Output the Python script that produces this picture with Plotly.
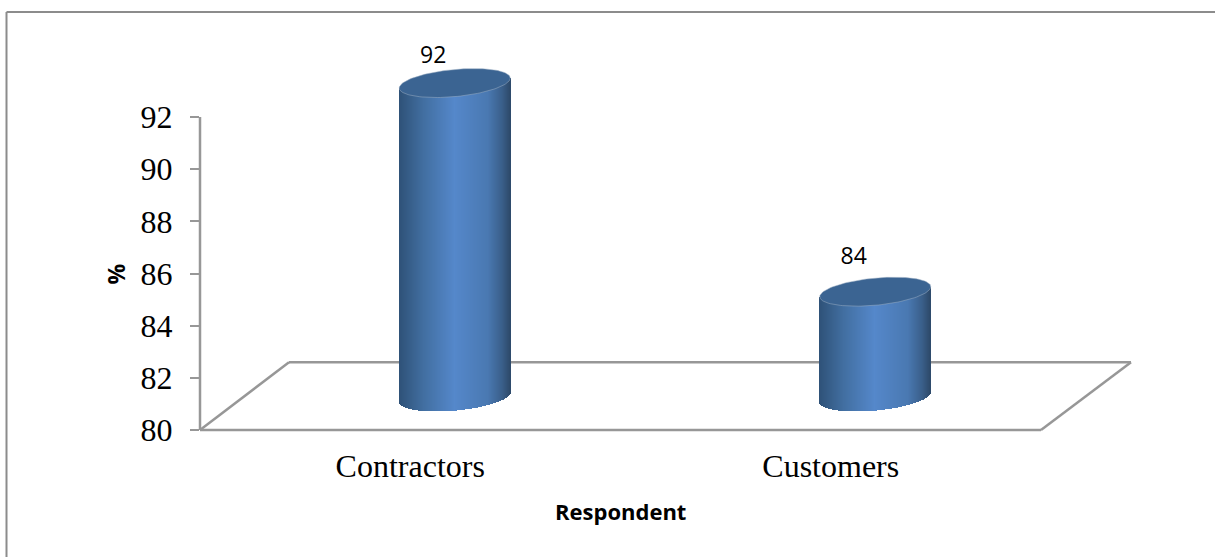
import numpy as np
import plotly.graph_objects as go

# ---- data ----
categories = ["Contractors", "Customers"]
values = [92, 84]
y_ticks = [80, 82, 84, 86, 88, 90, 92]
x_centres = [0.5, 1.5]

# ---- drawing geometry (data units: 1 x unit = 420.5 px, 1 y unit = 26.08 px) ----
PX_X, PX_Y = 420.5, 26.08
BASE = 80
W, H = 1215, 557
L, R, T, B = 200, 84, 0, 127
X_MAX = 931 / PX_X
Y_MAX = 80 + 430 / PX_Y
GREY = "#979797"
stops = [(0, (47, 82, 120)), (0.22, (66, 111, 161)), (0.5, (85, 136, 203)),
         (0.8, (74, 121, 178)), (0.93, (58, 95, 138)), (1, (46, 74, 107))]


def shade(t):
    xs = [s[0] for s in stops]
    return "rgb(%d,%d,%d)" % tuple(int(np.interp(t, xs, [s[1][i] for s in stops])) for i in range(3))


def floor_line(x0, y0, x1, y1):
    # paper references so that lines on the plot edge are not clipped
    return dict(type="line", xref="paper", yref="paper",
                x0=x0 / X_MAX, y0=(y0 - 80) / (Y_MAX - 80),
                x1=x1 / X_MAX, y1=(y1 - 80) / (Y_MAX - 80),
                layer="below", line=dict(color=GREY, width=2.5))


def px_x(p):
    return (p - L) / (W - L - R)


def px_y(p):
    return (H - B - p) / (H - T - B)


fig = go.Figure()

rx = 55.5 / PX_X
ry = 13.6 / PX_Y
tilt = 0.09 * PX_X / PX_Y  # data y per data x
for cat, c, v in zip(categories, x_centres, values):
    cx = c + 44.5 / PX_X
    top = v + 34 / PX_Y
    bot = BASE + 33 / PX_Y
    xs = cx + (np.arange(111) + 0.5 - 55.5) / PX_X
    u = np.clip((xs - cx) / rx, -1, 1)
    upper = top + tilt * (xs - cx)
    lower = bot + tilt * (xs - cx) - ry * np.sqrt(1 - u ** 2)
    # cylinder body, one thin bar per shade
    fig.add_trace(go.Bar(
        x=xs, y=upper - lower, base=lower, width=1.25 / PX_X,
        marker=dict(color=[shade((t + 1) / 2) for t in u], line=dict(width=0)),
        hoverinfo="skip", showlegend=False, name=cat))
    # cylinder cap
    a = np.linspace(0, 2 * np.pi, 121)
    ex = cx + rx * np.cos(a)
    ey = top + tilt * rx * np.cos(a) + ry * np.sin(a)
    fig.add_trace(go.Scatter(
        x=ex, y=ey, mode="lines", fill="toself", fillcolor="#3b6492",
        line=dict(color="#9fb0c4", width=0.5), hoverinfo="skip", showlegend=False))

# data labels
label_shift = [2.3, 2.58]
fig.add_trace(go.Scatter(
    x=[c + 23 / PX_X for c in x_centres], y=[v + s for v, s in zip(values, label_shift)],
    mode="text", text=[str(v) for v in values], textposition="middle center",
    textfont=dict(family="Open Sans", size=23, color="black"),
    hoverinfo="skip", showlegend=False))

fig.update_layout(
    width=W, height=H, autosize=False, barmode="overlay", bargap=0,
    paper_bgcolor="white", plot_bgcolor="rgba(0,0,0,0)",
    margin=dict(l=L, r=R, t=T, b=B, pad=0),
    showlegend=False,
    xaxis=dict(range=[0, X_MAX], tickvals=x_centres, ticktext=categories,
               showgrid=False, zeroline=False, showline=False, ticks="", ticklabelstandoff=14,
               tickfont=dict(family="Liberation Serif", size=32, color="black")),
    yaxis=dict(range=[80, Y_MAX], tickvals=y_ticks, showgrid=False, zeroline=False,
               showline=False,
               ticks="outside", ticklen=9, tickwidth=2, tickcolor=GREY,
               ticklabelstandoff=11,
               tickfont=dict(family="Liberation Serif", size=32, color="black")),
    annotations=[
        dict(text="<b>Respondent</b>", xref="paper", yref="paper", x=px_x(620.5), y=px_y(511),
             showarrow=False, xanchor="center", yanchor="middle",
             font=dict(family="Open Sans", size=22, color="black")),
        dict(text="<b>%</b>", xref="paper", yref="paper", x=px_x(115.5), y=px_y(274), textangle=-90,
             showarrow=False, xanchor="center", yanchor="middle",
             font=dict(family="Open Sans", size=23, color="black")),
    ],
    shapes=[
        # axis wall and floor of the 3-D plot
        floor_line(0, 80, 0, 92),
        floor_line(0, 80, 2, 80),
        floor_line(2, 80, X_MAX, 82.6),
        floor_line(X_MAX, 82.6, 89 / PX_X, 82.6),
        floor_line(89 / PX_X, 82.6, 0, 80),
        # outer frame
        dict(type="line", xref="paper", yref="paper",
             x0=px_x(6.5), x1=px_x(W), y0=px_y(12), y1=px_y(12),
             line=dict(color="#8c8c8c", width=2)),
        dict(type="line", xref="paper", yref="paper",
             x0=px_x(6.5), x1=px_x(6.5), y0=px_y(12), y1=px_y(H),
             line=dict(color="#8c8c8c", width=2)),
    ],
)

fig.write_html("out.html", config={"displayModeBar": False},
               post_script="document.body.style.margin='0';document.body.style.overflow='hidden';")
